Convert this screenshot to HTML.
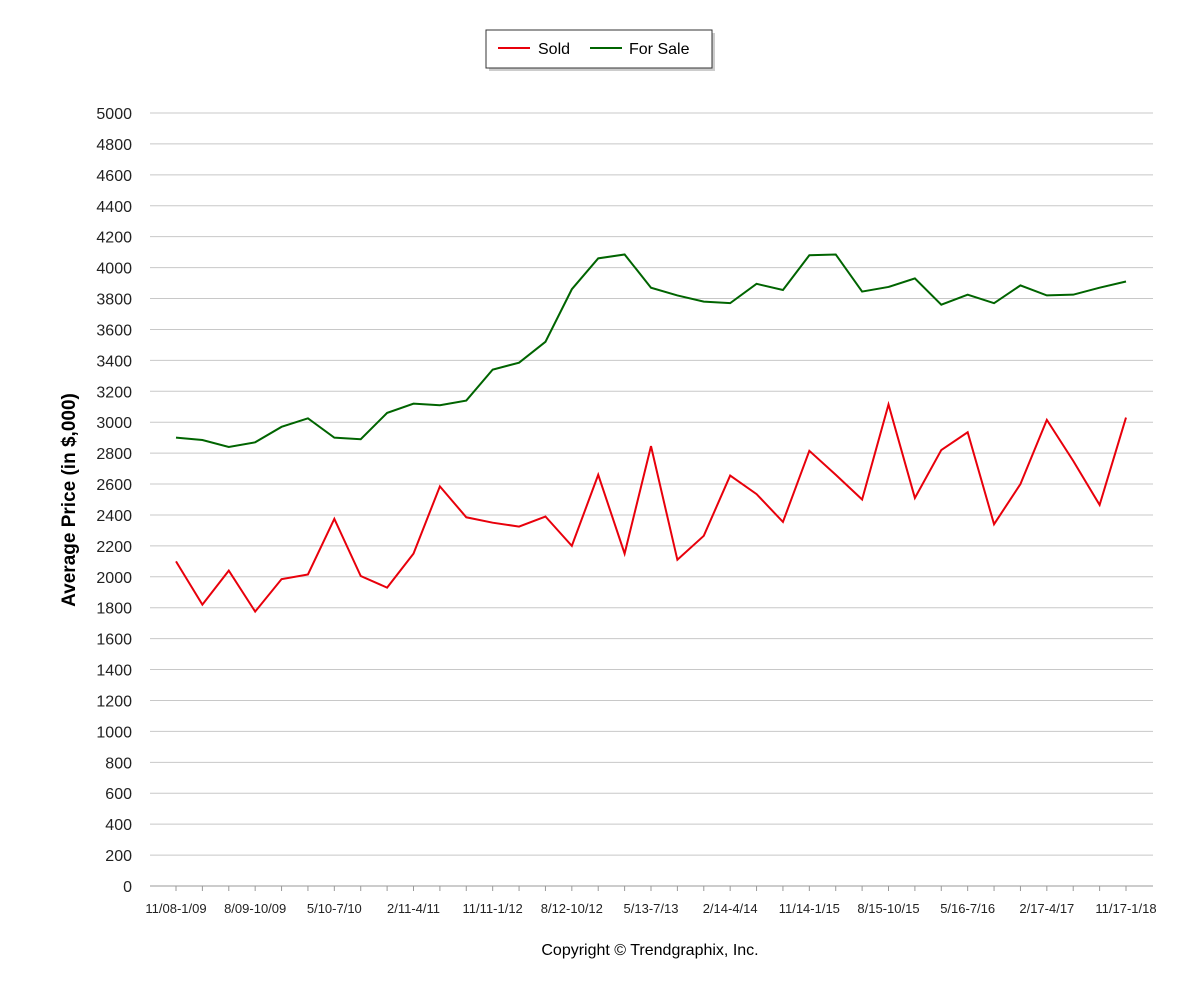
<!DOCTYPE html>
<html><head><meta charset="utf-8"><style>
body{margin:0;background:#fff;}
svg{display:block;font-family:"Liberation Sans",sans-serif;}
</style></head><body>
<svg id="chart" width="1200" height="1000">
<g>
<rect x="489" y="33" width="226" height="38" fill="#999" opacity="0.5"/>
<rect x="486" y="30" width="226" height="38" fill="#fff" stroke="#333" stroke-width="1"/>
<line x1="498" y1="48" x2="530" y2="48" stroke="#e8000b" stroke-width="2"/>
<text x="538" y="54" font-size="16" fill="#000">Sold</text>
<line x1="590" y1="48" x2="622" y2="48" stroke="#006400" stroke-width="2"/>
<text x="629" y="54" font-size="16" fill="#000">For Sale</text>
</g>
<g id="grid"></g>
<g id="axes"></g>
<g id="series"></g>
<text x="75" y="500" font-size="19" font-weight="bold" text-anchor="middle" transform="rotate(-90 75 500)">Average Price (in $,000)</text>
<text x="650" y="955" font-size="16" text-anchor="middle">Copyright © Trendgraphix, Inc.</text>
</svg>
<script>
const categoryLabels = ["11/08-1/09","8/09-10/09","5/10-7/10","2/11-4/11","11/11-1/12","8/12-10/12","5/13-7/13","2/14-4/14","11/14-1/15","8/15-10/15","5/16-7/16","2/17-4/17","11/17-1/18"];
const soldValues = [2100,1820,2040,1775,1985,2015,2375,2005,1930,2150,2585,2385,2350,2325,2390,2200,2660,2150,2845,2110,2265,2655,2535,2355,2815,2660,2500,3115,2510,2820,2935,2340,2600,3015,2750,2465,3030];
const forSaleValues = [2900,2885,2840,2870,2970,3025,2900,2890,3060,3120,3110,3140,3340,3385,3520,3860,4060,4085,3870,3820,3780,3770,3895,3855,4080,4085,3845,3875,3930,3760,3825,3770,3885,3820,3825,3870,3910];
const yTicks = [0,200,400,600,800,1000,1200,1400,1600,1800,2000,2200,2400,2600,2800,3000,3200,3400,3600,3800,4000,4200,4400,4600,4800,5000];

const NS="http://www.w3.org/2000/svg";
const X0=176, X1=1126, Y0=886, Y1=113, YMAX=5000;
const n=soldValues.length;
const xs=i=>X0+(X1-X0)*i/(n-1);
const ys=v=>Y0-(Y0-Y1)*v/YMAX;
function mk(tag,attrs,parent){const e=document.createElementNS(NS,tag);for(const k in attrs)e.setAttribute(k,attrs[k]);parent.appendChild(e);return e;}
const grid=document.getElementById('grid'), axes=document.getElementById('axes'), series=document.getElementById('series');
yTicks.forEach(v=>{
  const y=ys(v);
  if(v>0){const l=mk('line',{x1:150,x2:1153,y1:y,y2:y,stroke:'#c8c8c8','stroke-width':1},grid);
  
  }
  const t=mk('text',{x:132,y:y+6,'font-size':16,'text-anchor':'end',fill:'#222'},axes);
  
  
  t.textContent=v;
});
const ax=mk('line',{x1:150,x2:1153,y1:Y0,y2:Y0,stroke:'#999','stroke-width':1},axes);


for(let i=0;i<n;i++){mk('line',{x1:xs(i),x2:xs(i),y1:Y0,y2:Y0+5,stroke:'#999'},axes);}
categoryLabels.forEach((c,k)=>{
  const t=mk('text',{x:xs(k*3),y:913,'font-size':13,'text-anchor':'middle',fill:'#222'},axes);
  
  
  t.textContent=c;
});
function line(vals,color,name){
  const p=mk('polyline',{points:vals.map((v,i)=>xs(i)+','+ys(v)).join(' '),fill:'none',stroke:color,'stroke-width':2,'stroke-linejoin':'miter'},series);
  
  
}
line(forSaleValues,'#006400','for-sale-line');
line(soldValues,'#e8000b','sold-line');
</script>
</body></html>
